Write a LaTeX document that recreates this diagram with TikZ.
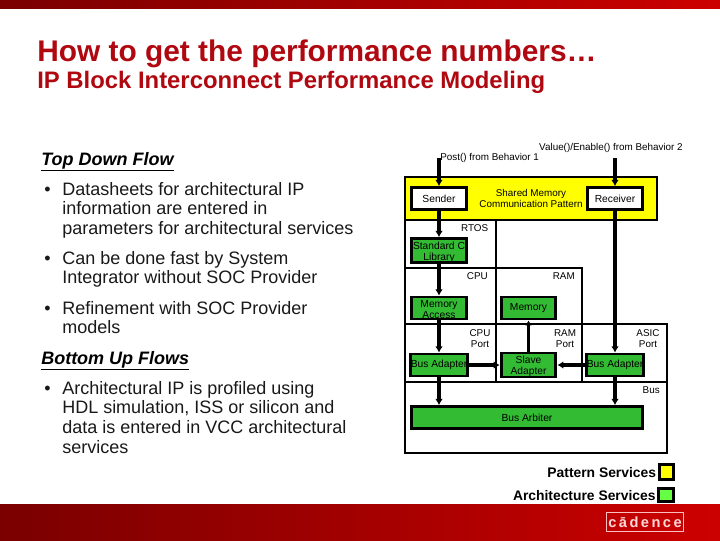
\documentclass[tikz,border=0pt]{standalone}
\usepackage{fontspec}
\usepackage{xcolor}
\usepackage{tikz}
\usetikzlibrary{arrows.meta,positioning}
\setmainfont{Liberation Sans}
\definecolor{slideRed}{RGB}{176,8,16}
\definecolor{bodyGray}{RGB}{25,25,25}
\definecolor{barDark}{RGB}{122,0,0}
\definecolor{barLight}{RGB}{204,0,0}
\definecolor{archGreen}{RGB}{51,187,51}
\definecolor{legendGreen}{RGB}{102,255,68}
\definecolor{patternYellow}{RGB}{255,255,0}
\newcommand{\toppad}{\rule{0pt}{8.2pt}}

\begin{document}
\begin{tikzpicture}[
  x=0.75pt, y=-0.75pt,
  block/.style={draw, line width=2.2pt, minimum width=41pt, minimum height=16.5pt, inner sep=0pt, align=center, font=\fontsize{7.7}{8.2}\selectfont},
  archblock/.style={block, fill=archGreen},
  panel/.style={draw, line width=1.5pt},
  tag/.style={inner sep=0pt, align=center, font=\fontsize{7.4}{8.4}\selectfont},
  bodytext/.style={inner sep=0pt, anchor=north west, align=left, text=bodyGray, font=\fontsize{13.5}{14.7}\selectfont},
  bullet/.style={inner sep=0pt, anchor=base west, text=bodyGray, font=\fontsize{13.5}{14.7}\selectfont},
  heading/.style={inner sep=0pt, anchor=base west, font=\fontsize{13.5}{14.7}\selectfont\itshape\bfseries},
  legendtext/.style={inner sep=0pt, anchor=east, font=\fontsize{10.4}{12}\selectfont\bfseries},
  arrow/.style={-{Latex[length=1.6mm,width=2mm]}, line width=2.4pt},
  thinarrow/.style={-{Latex[length=1.3mm,width=1.8mm]}, line width=1.6pt}
]
  \useasboundingbox (0,0) rectangle (720,540);
  % bars
  \shade[left color=barDark, right color=barLight] (0,0) rectangle (720,8);
  \shade[left color=barDark, right color=barLight] (0,504) rectangle (720,540);
  \node[draw=white!75!red, line width=0.9pt, minimum width=57.5pt, minimum height=14.5pt, inner sep=0pt, text=white!85!red, font=\fontsize{11}{12}\selectfont\bfseries] (logo) at (645,522) {c\,\={a}\,d\,e\,n\,c\,e};
  % titles
  \node[inner sep=0pt, anchor=base west, text=slideRed, font=\fontsize{22.4}{24}\selectfont\bfseries] (title) at (37,61) {How to get the performance numbers…};
  \node[inner sep=0pt, anchor=base west, text=slideRed, font=\fontsize{17.9}{20}\selectfont\bfseries] (subtitle) at (37,88) {IP Block Interconnect Performance Modeling};
  % left column
  \node[heading] (topdown) at (41,165) {\underline{Top Down Flow}};
  \node[bullet] (b1) at (44,195) {•};
  \node[bodytext] (t1) at (62,182) {Datasheets for architectural IP\\information are entered in\\parameters for architectural services};
  \node[bullet] (b2) at (44,264) {•};
  \node[bodytext] (t2) at (62,251) {Can be done fast by System\\Integrator without SOC Provider};
  \node[bullet] (b3) at (44,314) {•};
  \node[bodytext] (t3) at (62,301) {Refinement with SOC Provider\\models};
  \node[heading] (bottomup) at (41,364) {\underline{Bottom Up Flows}};
  \node[bullet] (b4) at (44,394) {•};
  \node[bodytext] (t4) at (62,381) {Architectural IP is profiled using\\HDL simulation, ISS or silicon and\\data is entered in VCC architectural\\services};
  % panels
  \draw[panel, fill=patternYellow] (405,177) rectangle (657,220);
  \draw[panel] (405,220) rectangle (496,268);
  \draw[panel] (405,268) rectangle (496,324);
  \draw[panel] (496,268) rectangle (582,324);
  \draw[panel] (405,324) rectangle (496,382);
  \draw[panel] (496,324) rectangle (582,382);
  \draw[panel] (582,324) rectangle (667,382);
  \draw[panel] (405,382) rectangle (667,453);
  % blocks
  \node[block, fill=white] (sender) at (439,198.5) {Sender};
  \node[block, fill=white] (receiver) at (615,198.5) {Receiver};
  \node[archblock] (stdlib) at (439,250.5) {\toppad Standard C\\Library};
  \node[archblock] (memaccess) at (439,308) {\toppad Memory\\Access};
  \node[archblock] (memory) at (528.5,308) {Memory};
  \node[archblock] (cpuadapter) at (439,365) {Bus Adapter};
  \node[archblock] (slave) at (528.5,365) {\toppad Slave\\Adapter};
  \node[archblock] (asicadapter) at (615,365) {Bus Adapter};
  \node[archblock, minimum width=173pt] (arbiter) at (527,417.5) {Bus Arbiter};
  % labels
  \coordinate (postin) at (439,158);
  \coordinate (valuein) at (615,158);
  \node[tag, anchor=west] (post) at (440,158) {Post() from Behavior 1};
  \node[tag, anchor=east] (value) at (683,148) {Value()/Enable() from Behavior 2};
  \node[tag] (pattern) at (531,198.5) {Shared Memory\\Communication Pattern};
  \node[tag, anchor=east] (rtos) at (488.5,228.5) {RTOS};
  \node[tag, anchor=east] (cpu) at (488,276.5) {CPU};
  \node[tag, anchor=east] (ram) at (575,276.5) {RAM};
  \node[tag] (cpuport) at (480,338.5) {CPU\\Port};
  \node[tag] (ramport) at (565,338.5) {RAM\\Port};
  \node[tag] (asicport) at (648,338.5) {ASIC\\Port};
  \node[tag, anchor=east] (bus) at (660,390.5) {Bus};
  % connectors
  \draw[arrow] (postin) -- (sender);
  \draw[arrow] (valuein) -- (receiver);
  \draw[arrow] (sender) -- (stdlib);
  \draw[arrow] (stdlib) -- (memaccess);
  \draw[arrow] (memaccess) -- (cpuadapter);
  \draw[arrow] (receiver) -- (asicadapter);
  \draw[arrow] (cpuadapter) -- (slave);
  \draw[arrow] (asicadapter) -- (slave);
  \draw[thinarrow] (slave) -- (memory);
  \draw[arrow] (cpuadapter) -- (cpuadapter |- arbiter.north);
  \draw[arrow] (asicadapter) -- (asicadapter |- arbiter.north);
  % legend
  \node[draw, line width=2.2pt, fill=patternYellow, minimum width=11pt, minimum height=11pt, inner sep=0pt] (legendpattern) at (666.5,472) {};
  \node[draw, line width=2.2pt, fill=legendGreen, minimum width=11pt, minimum height=10pt, inner sep=0pt] (legendarch) at (666,495) {};
  \node[legendtext, left=1pt of legendpattern, yshift=-0.7pt] (patternlabel) {Pattern Services};
  \node[legendtext, left=1pt of legendarch, yshift=-0.3pt] (archlabel) {Architecture Services};
\end{tikzpicture}
\end{document}
